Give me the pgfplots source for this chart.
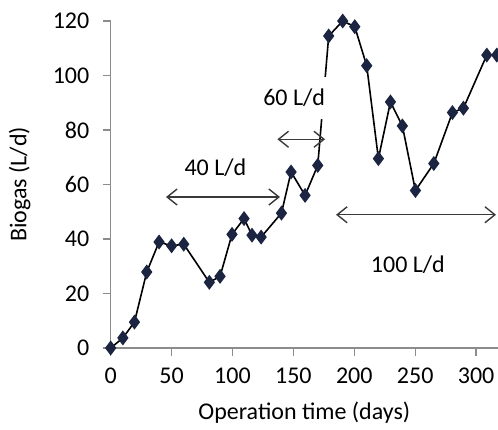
\documentclass[border=0pt]{standalone}
\usepackage{fontspec}
\setmainfont{Carlito}
\usepackage{pgfplots}
\pgfplotsset{compat=1.18}
\usetikzlibrary{arrows.meta}
\definecolor{axgray}{HTML}{8C8C8C}
\definecolor{mnavy}{HTML}{1B2440}
\definecolor{arrgray}{HTML}{3A3A3A}
\newcommand{\lf}{\fontsize{12}{14}\selectfont}
\begin{document}
\lf
\begin{tikzpicture}
\begin{axis}[
  scale only axis, width=193.65pt, height=163.5pt,
  xmin=0, xmax=318, ymin=0, ymax=120,
  axis x line*=bottom, axis y line*=left,
  axis line style={draw=axgray, line width=0.6pt},
  xtick={0,50,...,300}, ytick={0,20,...,120},
  tick style={draw=axgray, line width=0.6pt},
  tick align=outside, major tick length=4pt,
  /pgf/number format/assume math mode=true,
  ticklabel style={font=\lf},
  yticklabel style={anchor=east, inner sep=0pt, xshift=-6.5pt},
  xticklabel style={anchor=north, inner sep=0pt, yshift=-6pt},
  clip=false,
]
\addplot[black, line width=0.8pt, mark=diamond*, mark size=3.1pt, mark options={fill=mnavy, draw=mnavy}] coordinates {
(0,0) (10,3.7) (19.5,9.5) (29.6,27.9) (39.7,38.9) (50,37.5) (60,38.1)
(81,24.1) (89.8,26.3) (99.6,41.7) (109.5,47.5) (116,41.4) (123.5,40.7)
(140.2,49.5) (148.1,64.6) (159.6,56) (170,67) (179,114.5) (190.5,120)
(200.4,117.9) (210.2,103.6) (219.8,69.5) (229.7,90.3) (239.5,81.5)
(250.2,57.8) (265.3,67.7) (280.6,86.4) (289.6,88) (308.8,107.5) (317,107.5)
};
\draw[arrgray, line width=0.7pt, {Straight Barb[length=5pt,width=8pt]}-{Straight Barb[length=5pt,width=8pt]}] (axis cs:45.4,55.4) -- (axis cs:139,55.4);
\draw[arrgray, line width=0.7pt, {Straight Barb[length=5pt,width=8pt]}-{Straight Barb[length=5pt,width=8pt]}] (axis cs:136.9,76.6) -- (axis cs:176,76.6);
\draw[arrgray, line width=0.7pt, {Straight Barb[length=5pt,width=8pt]}-{Straight Barb[length=5pt,width=8pt]}] (axis cs:185,48.9) -- (axis cs:316.4,48.9);
\node[font=\lf] at (axis cs:86,66) {40 L/d};
\node[font=\lf, fill=white, inner xsep=4pt, inner ysep=6pt] at (axis cs:150.6,91.7) {60 L/d};
\node[font=\lf] at (axis cs:244,30.6) {100 L/d};
\end{axis}
\node[font=\lf, rotate=90, anchor=center] at (-45.5pt,81.75pt) {Biogas (L/d)};
\node[font=\lf, anchor=center] at (96.8pt,-32.5pt) {Operation time (days)};
\pgfresetboundingbox
\path (-55.35pt,-40.5pt) rectangle (193.65pt,174pt);
\end{tikzpicture}
\end{document}
